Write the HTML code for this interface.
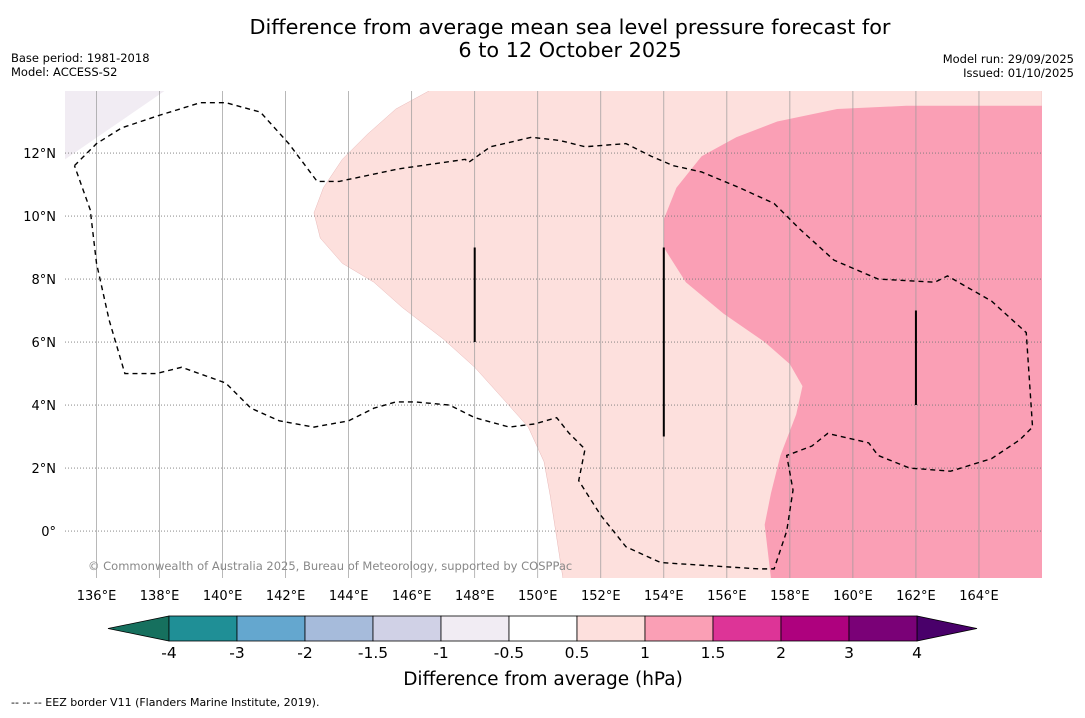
<!DOCTYPE html>
<html><head><meta charset="utf-8"><style>
body{margin:0;background:#fff;font-family:"Liberation Sans",sans-serif;}
svg text{font-family:"DejaVu Sans","Liberation Sans",sans-serif;}
</style></head><body>
<svg id="chart" width="1085" height="713" viewBox="0 0 1085 713">
<rect width="1085" height="713" fill="#fff"/>
<text x="570" y="34" text-anchor="middle" font-size="20.8">Difference from average mean sea level pressure forecast for</text>
<text x="570" y="57" text-anchor="middle" font-size="20.8">6 to 12 October 2025</text>
<text x="11" y="62" font-size="11.5">Base period: 1981-2018</text>
<text x="11" y="76" font-size="11.5">Model: ACCESS-S2</text>
<text x="1074" y="63" font-size="11.5" text-anchor="end">Model run: 29/09/2025</text>
<text x="1074" y="77" font-size="11.5" text-anchor="end">Issued: 01/10/2025</text>
<g id="map"></g>
<g id="cbar"></g>
<text x="543" y="685" text-anchor="middle" font-size="18.5">Difference from average (hPa)</text>
<text x="11" y="706" font-size="11">--  --  -- EEZ border V11 (Flanders Marine Institute, 2019).</text>
</svg>
<script>
const lonTicks=[136,138,140,142,144,146,148,150,152,154,156,158,160,162,164];
const latTicks=[12,10,8,6,4,2,0];
const cbarLevels=[-4,-3,-2,-1.5,-1,-0.5,0.5,1,1.5,2,3,4];
const cbarColors=["#1f8f96","#64a7cf","#a6bbdb","#d0d1e6","#f1ecf3","#ffffff","#fde0dd","#fa9fb5","#dd3497","#ae017e","#7a0177"];
const lowColor="#16705e", highColor="#49006a";
const lightRegion=[[146.6,14],[145.5,13.4],[144.6,12.6],[143.8,11.8],[143.2,10.9],[142.9,10.1],[143.1,9.3],[143.8,8.5],[144.8,7.9],[145.7,7.1],[147,6.1],[148,5.2],[148.9,4.2],[149.7,3.3],[150.2,2.2],[150.4,1.1],[150.6,-0.2],[150.8,-1.5],[166,-1.5],[166,14]];
const darkRegion=[[166,13.5],[161.7,13.5],[159.5,13.4],[157.6,13],[156.3,12.5],[155.2,11.9],[154.4,10.9],[154,9.9],[154,9],[154.7,7.9],[155.9,6.9],[157.2,6],[158,5.3],[158.4,4.6],[158.2,3.7],[157.7,2.4],[157.4,1.2],[157.2,0.2],[157.4,-1.5],[166,-1.5]];
const negRegion=[[135,14],[138.2,14],[135,11.8]];
const eez=[[135.3,11.6],[136,12.3],[136.8,12.8],[138,13.2],[139.3,13.6],[140.1,13.6],[141.2,13.3],[142.1,12.3],[143,11.1],[143.7,11.1],[145.6,11.5],[147.7,11.8],[147.8,11.7],[148.5,12.2],[149.8,12.5],[150.7,12.4],[151.5,12.2],[152.8,12.3],[153.6,11.9],[154.3,11.6],[155.2,11.4],[156.4,10.9],[157.5,10.4],[158.3,9.6],[159.4,8.6],[160.8,8],[162.6,7.9],[163,8.1],[164.4,7.3],[165.5,6.3],[165.7,3.3],[165.3,2.9],[164.4,2.3],[163.1,1.9],[161.8,2],[160.8,2.4],[160.5,2.8],[159.2,3.1],[158.7,2.7],[157.9,2.4],[158.1,1.3],[157.9,0],[157.5,-1.2],[157,-1.2],[153.9,-1],[152.8,-0.5],[152,0.5],[151.3,1.6],[151.5,2.6],[151,3.1],[150.6,3.6],[149.9,3.4],[149.1,3.3],[148,3.6],[147.2,4],[146.1,4.1],[145.5,4.1],[144.8,3.9],[144,3.5],[142.9,3.3],[141.8,3.5],[140.9,3.9],[140.1,4.7],[138.7,5.2],[137.9,5],[136.9,5],[136.4,6.7],[136,8.5],[135.8,10.2],[135.3,11.6]];
const sticks=[[148,9,6],[154,9,3],[162,7,4]];
const NS="http://www.w3.org/2000/svg";
const X0=65,X1=1042,Y0=91,Y1=578,LON0=135,LON1=166,LAT0=-1.49,LAT1=13.97;
const xs=l=>X0+(l-LON0)/(LON1-LON0)*(X1-X0);
const ys=l=>Y1-(l-LAT0)/(LAT1-LAT0)*(Y1-Y0);
function mk(tag,attrs,parent){const e=document.createElementNS(NS,tag);for(const k in attrs)e.setAttribute(k,attrs[k]);parent.appendChild(e);return e;}
const map=document.getElementById('map');
const clip=mk('clipPath',{id:'mc'},map);mk('rect',{x:X0,y:Y0,width:X1-X0,height:Y1-Y0},clip);
const g=mk('g',{'clip-path':'url(#mc)'},map);
const pts=a=>a.map(p=>xs(p[0])+','+ys(p[1])).join(' ');
let e;
e=mk('polygon',{points:pts(lightRegion),fill:"#fde0dd",stroke:"#e8b8b8","stroke-width":0.5},g);


e=mk('polygon',{points:pts(darkRegion),fill:"#fa9fb5"},g);


e=mk('polygon',{points:pts(negRegion),fill:"#f1ecf3"},g);


lonTicks.forEach(l=>{
 e=mk('line',{x1:xs(l),x2:xs(l),y1:Y0,y2:Y1,stroke:"#999","stroke-width":0.7},g);
 
 
 e=mk('text',{x:xs(l),y:600,'text-anchor':'middle','font-size':13},map);e.textContent=l+'°E';
 
 
});
latTicks.forEach(l=>{
 e=mk('line',{x1:X0,x2:X1,y1:ys(l),y2:ys(l),stroke:"#777","stroke-width":0.8,'stroke-dasharray':'1,2'},g);
 
 
 e=mk('text',{x:56,y:ys(l)+5,'text-anchor':'end','font-size':13},map);e.textContent=l===0?'0°':l+'°N';
 
 
});
e=mk('polyline',{points:pts(eez),fill:"none",stroke:"#000","stroke-width":1.4,'stroke-dasharray':'5,4'},g);


sticks.forEach(s=>{
 e=mk('line',{x1:xs(s[0]),x2:xs(s[0]),y1:ys(s[1]),y2:ys(s[2]),stroke:"#000","stroke-width":2},g);
 
 
});
e=mk('text',{x:88,y:570,'font-size':11.5,fill:"#888"},g);e.textContent='© Commonwealth of Australia 2025, Bureau of Meteorology, supported by COSPPac';


const cb=document.getElementById('cbar');
const CX0=169,CX1=917,CY=616,CH=25,seg=(CX1-CX0)/cbarColors.length;
e=mk('polygon',{points:`108,${CY+CH/2} ${CX0},${CY} ${CX0},${CY+CH}`,fill:lowColor,stroke:"#000","stroke-width":0.8},cb);


e=mk('polygon',{points:`977,${CY+CH/2} ${CX1},${CY} ${CX1},${CY+CH}`,fill:highColor,stroke:"#000","stroke-width":0.8},cb);


cbarColors.forEach((c,i)=>{
 e=mk('rect',{x:CX0+i*seg,y:CY,width:seg,height:CH,fill:c,stroke:"#000","stroke-width":0.8},cb);
 
 
});
cbarLevels.forEach((v,i)=>{
 e=mk('text',{x:CX0+i*seg,y:658,'text-anchor':'middle','font-size':15.5},cb);e.textContent=String(v);
 
 
});
</script>
</body></html>
